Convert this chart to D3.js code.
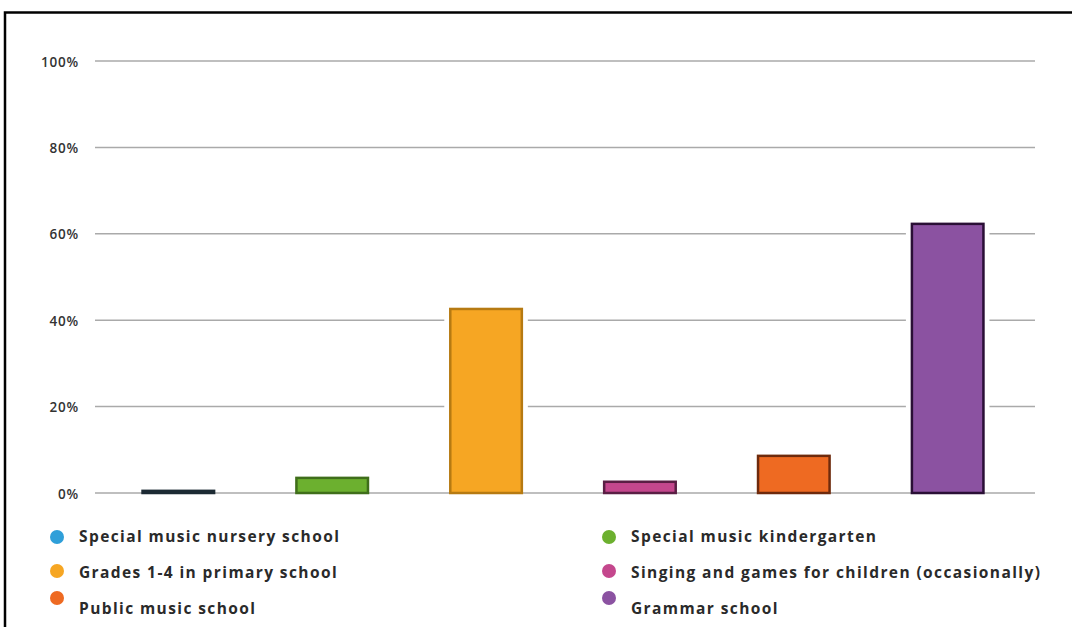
<!DOCTYPE html>
<html><head><meta charset="utf-8">
<script src="https://cdn.jsdelivr.net/npm/d3@7"></script>
<style>body{margin:0;background:#fff;} svg{display:block;}</style>
</head><body>
<svg id="c" width="1072" height="627"></svg>
<script>
const categories = ["Special music nursery school","Special music kindergarten","Grades 1-4 in primary school","Singing and games for children (occasionally)","Public music school","Grammar school"];
const values = [0.5, 3.5, 42.6, 2.6, 8.6, 62.3];
const colors = ["#2f9fd9","#6cb02f","#f6a623","#c4478d","#ee6a22","#8b52a1"];
const borders = ["#1c2a33","#3f6e1a","#b67a12","#5a1e44","#6e2a0c","#2a0f35"];
const tickValues = [0,20,40,60,80,100];

const svg = d3.select("#c");
// frame
svg.append("path").attr("d","M5,627 V12.5 H1072").attr("fill","none").attr("stroke","#000").attr("stroke-width",2.5);

const x = d3.scaleBand().domain(categories).range([101,1025]).paddingInner(0.535).paddingOuter(0.27);
const y = d3.scaleLinear().domain([0,100]).range([493,61]);

const yAxis = d3.axisLeft(y).tickValues(tickValues).tickSize(0).tickPadding(0).tickFormat(d=>d+"%");
const gy = svg.append("g").attr("transform","translate(79,0)").call(yAxis);
gy.select(".domain").remove();
gy.selectAll("text").attr("font-family","'Open Sans',sans-serif").attr("font-size",13.5).attr("font-weight",600)
  .attr("letter-spacing",0.8).attr("fill","#333").attr("dy","0.38em");

svg.append("g").selectAll("line").data(tickValues).join("line")
  .attr("x1",95).attr("x2",1035).attr("y1",d=>y(d)).attr("y2",d=>y(d))
  .attr("stroke","#aaa").attr("stroke-width",1.5);

// halo behind bars
svg.append("g").selectAll("rect").data(values).join("rect")
  .attr("x",(d,i)=>x(categories[i])-6).attr("width",x.bandwidth()+12)
  .attr("y",d=>y(d)-4).attr("height",d=>y(0)-y(d)+3)
  .attr("fill","#fff");

svg.append("g").selectAll("rect").data(values).join("rect")
  .attr("x",(d,i)=>x(categories[i])).attr("width",x.bandwidth())
  .attr("y",d=>y(d)).attr("height",d=>Math.max(1,y(0)-y(d)))
  .attr("fill",(d,i)=>colors[i]).attr("stroke",(d,i)=>borders[i]).attr("stroke-width",2.5);

// legend
const lg = svg.append("g");
const lx = [57, 609], ly = [537, 573, 609];
const circY = [537, 571, 598];
categories.forEach((c,i)=>{
  const col = i%2, row = Math.floor(i/2);
  lg.append("circle").attr("cx",lx[col]).attr("cy",circY[row]).attr("r",7).attr("fill",colors[i]);
  lg.append("text").attr("x",lx[col]+22).attr("y",ly[row]+5)
    .attr("font-family","'Open Sans',sans-serif").attr("font-weight",700).attr("font-size",15.5)
    .attr("letter-spacing",1.4).attr("fill","#2a2a2a").text(c);
});
</script>
</body></html>
